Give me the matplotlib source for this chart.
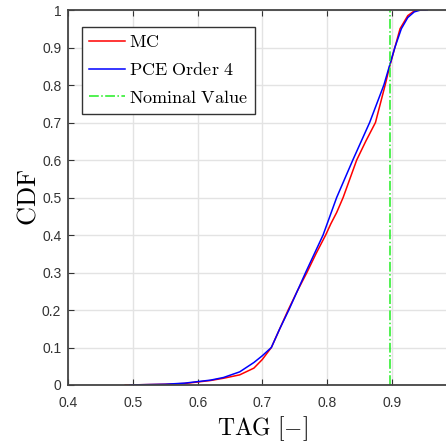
import matplotlib
matplotlib.use('Agg')
import matplotlib.pyplot as plt

plt.rcParams['mathtext.fontset'] = 'cm'
plt.rcParams['font.family'] = ['Liberation Sans', 'DejaVu Sans']

# empirical CDF from Monte Carlo samples
mc_tag = [0.488, 0.52, 0.55, 0.58, 0.60, 0.62, 0.64, 0.665, 0.687, 0.70,
          0.714, 0.727, 0.740, 0.754, 0.769, 0.783, 0.798, 0.806, 0.815,
          0.825, 0.846, 0.86, 0.875, 0.89, 0.897, 0.905, 0.913, 0.925,
          0.937, 0.952]
mc_cdf = [0.0, 0.001, 0.002, 0.004, 0.008, 0.012, 0.018, 0.027, 0.045, 0.068,
          0.10, 0.15, 0.20, 0.25, 0.30, 0.35, 0.40, 0.43, 0.46,
          0.50, 0.60, 0.65, 0.70, 0.80, 0.85, 0.90, 0.95, 0.985,
          1.0, 1.0]

# CDF of the order-4 polynomial chaos surrogate
pce_tag = [0.495, 0.52, 0.55, 0.58, 0.60, 0.62, 0.64, 0.665, 0.687, 0.70,
           0.714, 0.727, 0.741, 0.754, 0.767, 0.794, 0.815, 0.84, 0.866,
           0.888, 0.905, 0.915, 0.925, 0.935, 0.945, 0.955]
pce_cdf = [0.0, 0.001, 0.002, 0.005, 0.009, 0.013, 0.020, 0.035, 0.060, 0.078,
           0.10, 0.15, 0.20, 0.25, 0.30, 0.40, 0.50, 0.60, 0.70,
           0.80, 0.90, 0.95, 0.98, 0.995, 1.0, 1.0]

nominal_tag = 0.897

x_ticks = [0.4, 0.5, 0.6, 0.7, 0.8, 0.9]
y_ticks = [0, 0.1, 0.2, 0.3, 0.4, 0.5, 0.6, 0.7, 0.8, 0.9, 1]

fig = plt.figure(figsize=(4.46, 4.46), dpi=100)
ax = fig.add_axes([68.3 / 446, 61 / 446, 388 / 446, 375 / 446])

ax.plot(mc_tag, mc_cdf, color='#ff0000', lw=1.1, label=r'$\mathrm{MC}$')
ax.plot(pce_tag, pce_cdf, color='#0000ff', lw=1.1, label=r'$\mathrm{PCE\ Order\ 4}$')
ax.axvline(nominal_tag, color='#22ee22', lw=1.1, ls='-.', label=r'$\mathrm{Nominal\ Value}$')

ax.set_xlim(0.4, 1.0)
ax.set_ylim(0, 1)
ax.set_xticks(x_ticks)
ax.set_yticks(y_ticks)
ax.set_xticklabels([f'{t:g}' for t in x_ticks])
ax.set_yticklabels([f'{t:g}' for t in y_ticks])
ax.tick_params(direction='in', top=True, right=True, length=4,
               labelsize=10, color='#333333', labelcolor='#333333')
ax.tick_params(axis='x', pad=8)
ax.tick_params(axis='y', pad=5)
ax.grid(True, color='#e3e3e3', lw=1)
ax.set_axisbelow(True)
for s in ax.spines.values():
    s.set_color('#444444')
    s.set_linewidth(1.3)

ax.set_xlabel(r'$\mathrm{TAG}\ [-]$', fontsize=17, labelpad=3)
ax.set_ylabel(r'$\mathrm{CDF}$', fontsize=19, labelpad=1)

leg = ax.legend(loc='upper left', bbox_to_anchor=(0.035, 0.955), fontsize=13,
                fancybox=False, framealpha=1, edgecolor='#333333',
                handlelength=2.0, handletextpad=0.2, borderpad=0.4,
                labelspacing=0.6, borderaxespad=0)
leg.get_frame().set_linewidth(1.0)

fig.savefig('out.png', dpi=100)
